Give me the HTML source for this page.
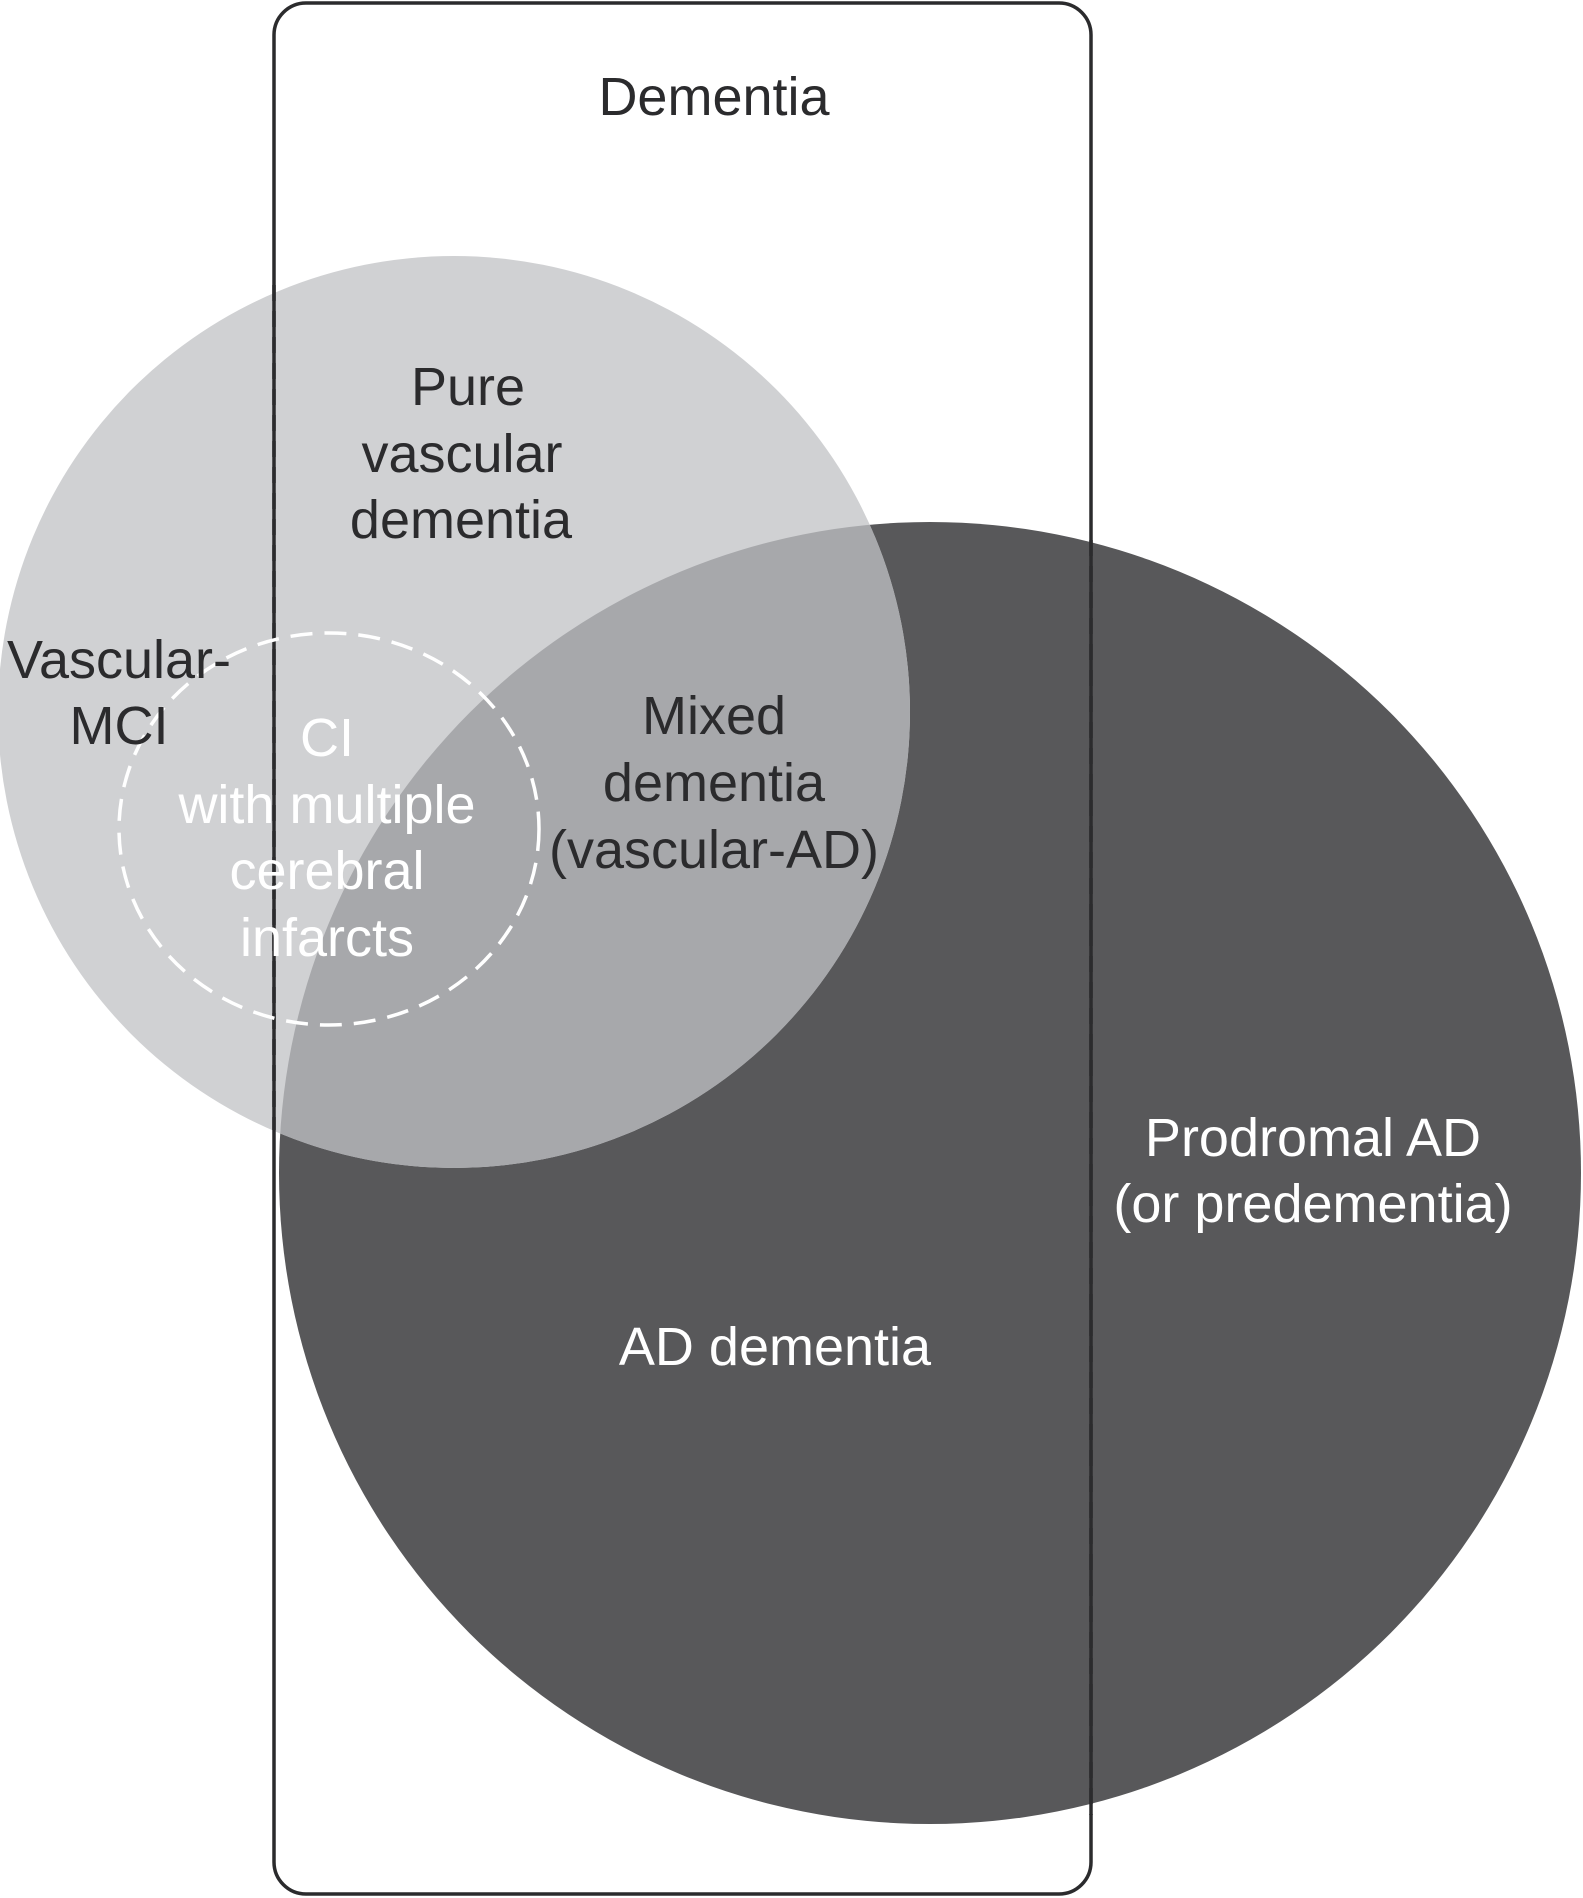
<!DOCTYPE html>
<html><head><meta charset="utf-8"><style>html,body{margin:0;padding:0;background:#fff}svg{display:block}</style></head>
<body>
<svg width="1583" height="1898" viewBox="0 0 1583 1898" xmlns="http://www.w3.org/2000/svg" font-family="Liberation Sans, Arial, sans-serif" font-size="54" text-anchor="middle">
<defs>
<clipPath id="cl"><circle cx="454" cy="712" r="456"/></clipPath>
</defs>
<circle cx="930" cy="1173" r="651" fill="#58585a"/>
<circle cx="454" cy="712" r="456" fill="#d0d1d3"/>
<circle cx="930" cy="1173" r="651" fill="#a7a8ab" clip-path="url(#cl)"/>
<rect x="274" y="3" width="817" height="1891" rx="32" fill="none" stroke="#2b2b2d" stroke-width="3.5"/>
<line x1="274" y1="285" x2="274" y2="1130" stroke="#2b2b2d" stroke-width="3.5" stroke-dasharray="16,10"/>
<line x1="1091" y1="540" x2="1091" y2="1815" stroke="#2b2b2d" stroke-width="3.5" stroke-dasharray="16,10"/>
<ellipse cx="329" cy="829" rx="210" ry="196" fill="none" stroke="#fff" stroke-width="3.5" stroke-dasharray="22,12"/>
<g fill="#2b2b2d">
<text x="714" y="115">Dementia</text>
<text x="468" y="405">Pure</text>
<text x="462" y="472">vascular</text>
<text x="461" y="538">dementia</text>
<text x="119" y="678">Vascular-</text>
<text x="119" y="744">MCI</text>
<text x="714" y="734">Mixed</text>
<text x="714" y="801">dementia</text>
<text x="714" y="868">(vascular-AD)</text>
</g>
<g fill="#fff">
<text x="327" y="756">CI</text>
<text x="327" y="823">with multiple</text>
<text x="327" y="889">cerebral</text>
<text x="327" y="956">infarcts</text>
<text x="1313" y="1156">Prodromal AD</text>
<text x="1313" y="1222">(or predementia)</text>
<text x="775" y="1365">AD dementia</text>
</g>
</svg>
</body></html>
